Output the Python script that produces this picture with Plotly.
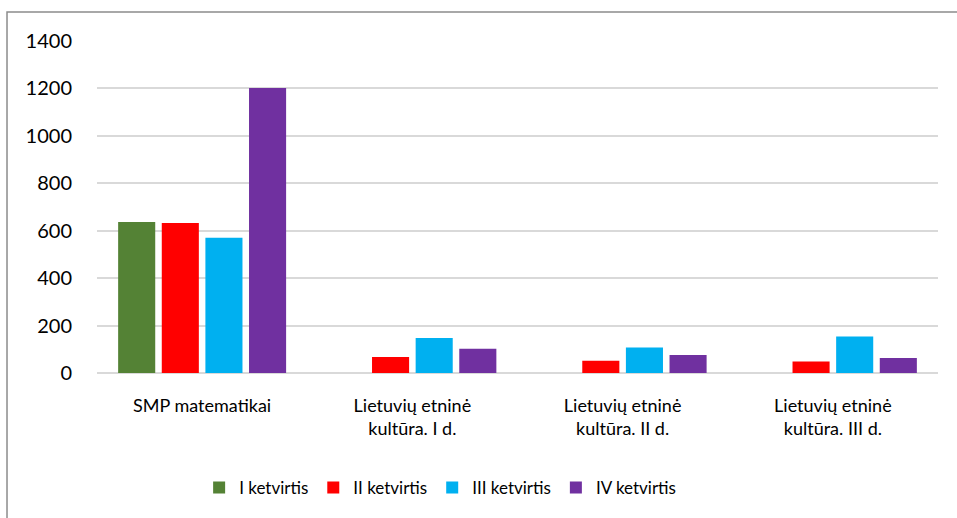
import plotly.graph_objects as go

# categories and quarterly values
categories = [
    "SMP matematikai",
    "Lietuvių etninė<br>kultūra. I d.",
    "Lietuvių etninė<br>kultūra. II d.",
    "Lietuvių etninė<br>kultūra. III d.",
]
q1 = [637, None, None, None]
q2 = [633, 67, 52, 49]
q3 = [570, 148, 108, 154]
q4 = [1202, 102, 76, 63]

series_names = ["I ketvirtis", "II ketvirtis", "III ketvirtis", "IV ketvirtis"]
colors = ["#548235", "#ff0000", "#00b0f0", "#7030a0"]

fig = go.Figure()
for name, vals, color in zip(series_names, [q1, q2, q3, q4], colors):
    fig.add_trace(go.Bar(x=categories, y=vals, name=name, marker_color=color,
                         marker_line_width=0))

fig.update_layout(
    width=957,
    height=518,
    barmode="group",
    bargap=0.17,
    bargroupgap=0.15,
    plot_bgcolor="white",
    paper_bgcolor="white",
    font=dict(family="Lato, Open Sans, sans-serif", size=18, color="#000000"),
    margin=dict(l=97, r=19, t=41, b=145),
    legend=dict(
        orientation="h",
        x=0.408, xanchor="center",
        y=-0.346, yanchor="middle",
        font=dict(size=17),
        itemwidth=30,
        traceorder="normal",
    ),
    shapes=[dict(
        type="rect", xref="paper", yref="paper",
        x0=-0.107, x1=1.2, y0=-0.6, y1=1.087,
        line=dict(color="#8c8c8c", width=1.5),
        layer="below",
    )],
)

fig.update_xaxes(showline=False, ticks="", tickfont=dict(size=18),
                 ticklabelstandoff=20, automargin=False)
fig.update_yaxes(
    range=[0, 1400], dtick=200,
    gridcolor="#d9d9d9", gridwidth=1.5,
    zeroline=True, zerolinecolor="#d9d9d9", zerolinewidth=1.5,
    tickfont=dict(size=20), ticks="", ticklabelstandoff=24, automargin=False,
)

# drop the default page margin so the figure sits at the window's corner
fig.write_html("out.html", config={"displayModeBar": False},
               post_script="document.body.style.margin='0';")
